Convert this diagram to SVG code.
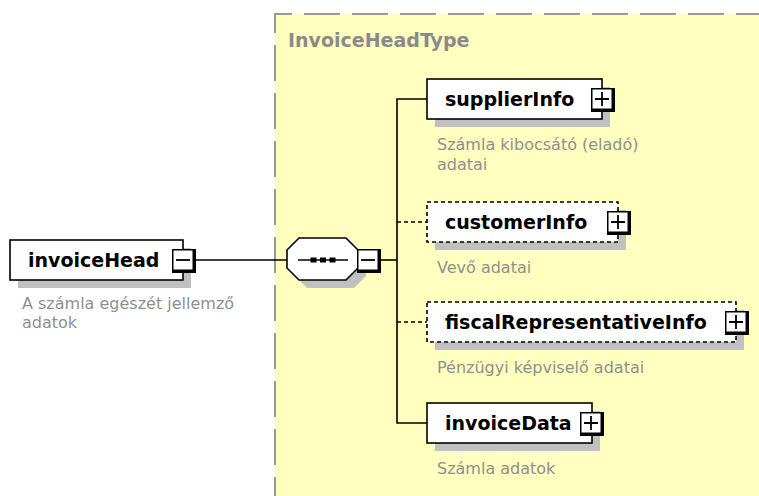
<svg xmlns="http://www.w3.org/2000/svg" width="759" height="496" viewBox="0 0 759 496">
<style>
.name{font-family:"DejaVu Sans",Verdana,sans-serif;font-weight:bold;font-size:19px;fill:#000}
.desc{font-family:"DejaVu Sans",Verdana,sans-serif;font-size:16px;fill:#8f8f8f}
.title{font-family:"DejaVu Sans",Verdana,sans-serif;font-weight:bold;font-size:19px;fill:#8a8a8a}
.box{fill:#fff;stroke:#000;stroke-width:1.6}
.opt{stroke-dasharray:4 3}
.shadow{fill:#c0c0c0}
.btnO{fill:#000}
.btnI{fill:#fff}
.sign{stroke:#000;stroke-width:1.8;fill:none}
.conn{stroke:#000;stroke-width:1.6;fill:none}
.dash{stroke-dasharray:4 3}
.frame{stroke:#999;stroke-width:2;fill:none;stroke-dasharray:36 12}
</style>
<rect width="759" height="496" fill="#fff"/>
<g id="InvoiceHeadType">
<rect x="275" y="14" width="500" height="500" fill="#ffffc0"/>
<path class="frame" d="M275,33 V14 H770"/>
<path class="frame" d="M275,45 V510"/>
<text class="title" x="288" y="47">InvoiceHeadType</text>
</g>
<g id="connectors">
<path class="conn" d="M196,260 H287"/>
<path class="conn" d="M381,260 H397"/>
<path class="conn" d="M427,99 H397 V423 H427"/>
<path class="conn dash" d="M397,222 H427"/>
<path class="conn dash" d="M397,322 H427"/>
</g>
<g id="invoiceHead">
<rect class="shadow" x="18" y="248" width="173" height="40"/>
<rect class="box" x="10" y="240" width="173" height="40"/>
<text class="name" x="28" y="266.5">invoiceHead</text>
<rect class="btnO" x="172" y="249" width="24" height="24"/>
<rect class="btnI" x="173.5" y="250.5" width="19" height="19"/>
<path class="sign" d="M176,260 H190"/>
<text class="desc" x="22" y="309">A számla egészét jellemző</text>
<text class="desc" x="22" y="328">adatok</text>
</g>
<g id="sequence">
<polygon class="shadow" points="307,246 354,246 366,258 366,276 354,288 307,288 295,276 295,258"/>
<polygon class="box" points="299,238 346,238 358,250 358,268 346,280 299,280 287,268 287,250"/>
<path class="conn" d="M298,260 H348"/>
<rect x="310.5" y="257.5" width="6" height="5" fill="#000"/>
<rect x="320" y="257.5" width="6" height="5" fill="#000"/>
<rect x="329.5" y="257.5" width="6" height="5" fill="#000"/>
<rect class="btnO" x="357" y="249" width="24" height="24"/>
<rect class="btnI" x="358.5" y="250.5" width="19" height="19"/>
<path class="sign" d="M361,260 H375"/>
</g>
<g id="supplierInfo">
<rect class="shadow" x="435" y="87" width="175" height="40"/>
<rect class="box" x="427" y="79" width="175" height="40"/>
<text class="name" x="445" y="105.5">supplierInfo</text>
<rect class="btnO" x="591" y="88" width="24" height="24"/>
<rect class="btnI" x="592.5" y="89.5" width="19" height="19"/>
<path class="sign" d="M595,99 H609 M602,92 V106"/>
<text class="desc" x="437" y="150">Számla kibocsátó (eladó)</text>
<text class="desc" x="437" y="170">adatai</text>
</g>
<g id="customerInfo">
<rect class="shadow" x="435" y="210" width="191" height="40"/>
<rect class="box opt" x="427" y="202" width="191" height="40"/>
<text class="name" x="445" y="228.5">customerInfo</text>
<rect class="btnO" x="607" y="211" width="24" height="24"/>
<rect class="btnI" x="608.5" y="212.5" width="19" height="19"/>
<path class="sign" d="M611,222 H625 M618,215 V229"/>
<text class="desc" x="437" y="273">Vevő adatai</text>
</g>
<g id="fiscalRepresentativeInfo">
<rect class="shadow" x="435" y="310" width="309" height="40"/>
<rect class="box opt" x="427" y="302" width="309" height="40"/>
<text class="name" x="445" y="328.5">fiscalRepresentativeInfo</text>
<rect class="btnO" x="725" y="311" width="24" height="24"/>
<rect class="btnI" x="726.5" y="312.5" width="19" height="19"/>
<path class="sign" d="M729,322 H743 M736,315 V329"/>
<text class="desc" x="437" y="373">Pénzügyi képviselő adatai</text>
</g>
<g id="invoiceData">
<rect class="shadow" x="435" y="411" width="165" height="40"/>
<rect class="box" x="427" y="403" width="165" height="40"/>
<text class="name" x="445" y="429.5">invoiceData</text>
<rect class="btnO" x="580" y="412" width="24" height="24"/>
<rect class="btnI" x="581.5" y="413.5" width="19" height="19"/>
<path class="sign" d="M584,423 H598 M591,416 V430"/>
<text class="desc" x="437" y="474">Számla adatok</text>
</g>
</svg>
